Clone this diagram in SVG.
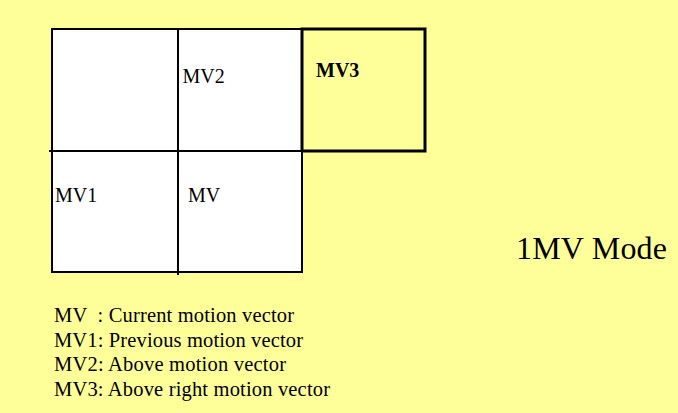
<svg xmlns="http://www.w3.org/2000/svg" width="678" height="413" viewBox="0 0 678 413">
<style>
.cell{fill:#ffffff;stroke:#000000;stroke-width:2}
.lbl{font-family:"Liberation Serif","Times New Roman",serif;font-size:20px;fill:#000}
.leg{font-family:"Liberation Serif","Times New Roman",serif;font-size:20.5px;fill:#000}
</style>
<rect x="0" y="0" width="678" height="413" fill="#ffff99"/>
<g id="cell-topleft"><rect class="cell" x="52" y="29" width="126" height="122"/></g>
<g id="cell-mv2"><rect class="cell" x="178" y="29" width="124" height="122"/><text class="lbl" x="182.5" y="83">MV2</text></g>
<g id="cell-mv3"><rect x="302" y="29" width="123" height="122" fill="#ffff99" stroke="#000" stroke-width="3"/><text class="lbl" x="316" y="77" font-weight="bold">MV3</text></g>
<g id="cell-mv1"><rect class="cell" x="52" y="151" width="126" height="121"/><text class="lbl" x="55" y="202">MV1</text></g>
<g id="cell-mv"><rect class="cell" x="178" y="151" width="124" height="121"/><text class="lbl" x="188" y="202">MV</text></g>
<g id="connectors"><line x1="178" y1="29" x2="178" y2="275" stroke="#000" stroke-width="2"/><line x1="49" y1="151" x2="302" y2="151" stroke="#000" stroke-width="2"/></g>
<g id="title"><text x="516" y="259" font-family="'Liberation Serif','Times New Roman',serif" font-size="32" textLength="151">1MV Mode</text></g>
<g id="legend">
<text class="leg" x="54" y="322" xml:space="preserve" textLength="240">MV  : Current motion vector</text>
<text class="leg" x="54" y="346.5" textLength="249">MV1: Previous motion vector</text>
<text class="leg" x="54" y="371" textLength="232">MV2: Above motion vector</text>
<text class="leg" x="54" y="395.5" textLength="276">MV3: Above right motion vector</text>
</g>
</svg>
